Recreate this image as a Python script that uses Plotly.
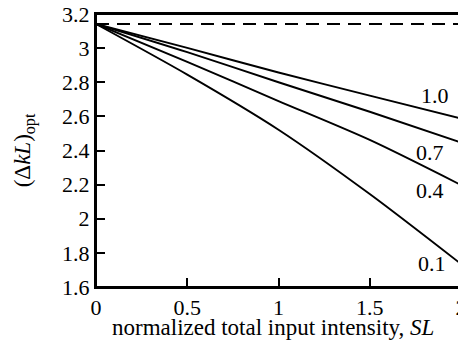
import plotly.graph_objects as go

x_vals = [0, 0.5, 1.0, 1.5, 2.0]
series_labels = ["1.0", "0.7", "0.4", "0.1"]
series_values = [
    [3.1416, 3.001, 2.857, 2.722, 2.588],
    [3.1416, 2.976, 2.800, 2.627, 2.447],
    [3.1416, 2.919, 2.690, 2.462, 2.198],
    [3.1416, 2.845, 2.522, 2.145, 1.735],
]
label_pos = [(1.86, 2.72), (1.83, 2.39), (1.83, 2.165), (1.84, 1.735)]
dashed_value = 3.1416

xticks = [0, 0.5, 1, 1.5, 2]
xticktext = ["0", "0.5", "1", "1.5", "2"]
yticks = [1.6, 1.8, 2, 2.2, 2.4, 2.6, 2.8, 3, 3.2]
yticktext = ["1.6", "1.8", "2", "2.2", "2.4", "2.6", "2.8", "3", "3.2"]

FAM = "Liberation Serif"
tickfont = dict(family=FAM, size=22, color="black")
titlefont = dict(family=FAM, size=23, color="black")

fig = go.Figure()
fig.add_trace(go.Scatter(x=[0, 2], y=[dashed_value, dashed_value], mode="lines",
                         line=dict(color="black", width=2, dash="13px,8px"), showlegend=False))
for lab, vals in zip(series_labels, series_values):
    fig.add_trace(go.Scatter(x=x_vals, y=vals, mode="lines",
                             line=dict(color="black", width=1.9, shape="spline", smoothing=0.8),
                             showlegend=False))
for lab, (px, py) in zip(series_labels, label_pos):
    fig.add_annotation(x=px, y=py, text=lab, showarrow=False, font=tickfont)

fig.add_annotation(xref="paper", yref="paper", x=-0.195, y=0.5, text="(Δ<i>kL</i>)<sub>opt</sub>",
                   textangle=-90, showarrow=False, font=titlefont, xanchor="center", yanchor="middle")
fig.add_annotation(xref="paper", yref="paper", x=0.486, y=-0.148,
                   text="normalized total input intensity, <i>SL</i>",
                   showarrow=False, font=titlefont, xanchor="center", yanchor="middle")

# plot frame
fig.add_shape(type="rect", xref="paper", yref="paper", x0=0, y0=0, x1=1, y1=1,
              line=dict(color="black", width=2), fillcolor="rgba(0,0,0,0)",
              opacity=1, layer="above")

axis_common = dict(ticks="inside", ticklen=9, tickwidth=2, tickcolor="black",
                   showline=True, linecolor="black", linewidth=2, mirror=True,
                   showgrid=False, zeroline=False, automargin=False,
                   ticklabeloverflow="allow", tickfont=tickfont, layer="above traces")

fig.update_layout(
    template="simple_white",
    width=466, height=343,
    margin=dict(l=88, r=13, t=6, b=64),
    paper_bgcolor="white", plot_bgcolor="white",
    font=tickfont,
    xaxis=dict(range=[0, 2], tickvals=xticks, ticktext=xticktext, **axis_common),
    yaxis=dict(range=[1.6, 3.2], tickvals=yticks, ticktext=yticktext, **axis_common),
)
fig.write_html("out.html")
